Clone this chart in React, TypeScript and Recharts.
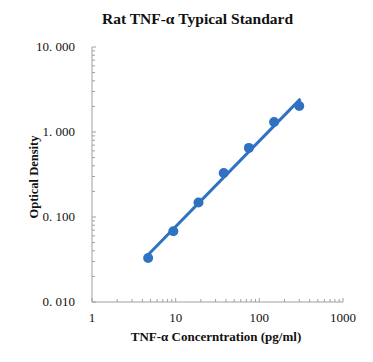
import { ComposedChart, Scatter, XAxis, YAxis } from 'recharts';

const concentrations = [4.69, 9.38, 18.75, 37.5, 75, 150, 300];
const odValues = [0.033, 0.068, 0.148, 0.33, 0.65, 1.31, 2.02];

// trendline ends (power fit, straight on log-log)
const fitX = [4.69, 310];
const fitY = [0.036, 2.45];

const xMajor = [1, 10, 100, 1000];
const xTicks = [1, 2, 3, 4, 5, 6, 7, 8, 9, 10, 20, 30, 40, 50, 60, 70, 80, 90, 100, 200, 300, 400, 500, 600, 700, 800, 900, 1000];
const yMajor = [0.01, 0.1, 1, 10];
const yTicks = [0.01, 0.02, 0.03, 0.04, 0.05, 0.06, 0.07, 0.08, 0.09, 0.1, 0.2, 0.3, 0.4, 0.5, 0.6, 0.7, 0.8, 0.9, 1, 2, 3, 4, 5, 6, 7, 8, 9, 10];
const yLabels = ['0. 010', '0. 100', '1. 000', '10. 000'];

const points = concentrations.map((x, i) => ({ x, y: odValues[i] }));
const fitLine = fitX.map((x, i) => ({ x, y: fitY[i] }));

const blue = '#2f72c2';
const axisColor = '#a0a0a0';
const font = '"Liberation Serif", "Times New Roman", serif';

const XTick = (props: any) => {
  const { x, y, payload } = props;
  const major = xMajor.includes(payload.value);
  return (
    <g>
      <line x1={x} x2={x} y1={y} y2={y - (major ? 4 : 3)} stroke={axisColor} strokeWidth={1} />
      {major && (
        <text x={x} y={y + 20} textAnchor="middle" fontSize={13} fill="#111" stroke="none" fontFamily={font}>
          {payload.value}
        </text>
      )}
    </g>
  );
};

const YTick = (props: any) => {
  const { x, y, payload } = props;
  const idx = yMajor.indexOf(payload.value);
  return (
    <g>
      <line x1={x} x2={x + (idx >= 0 ? 4 : 3)} y1={y} y2={y} stroke={axisColor} strokeWidth={1} />
      {idx >= 0 && (
        <text x={x - 17} y={y + 4} textAnchor="end" fontSize={13} fill="#111" stroke="none" fontFamily={font}>
          {yLabels[idx]}
        </text>
      )}
    </g>
  );
};

export default function App() {
  return (
    <div style={{ position: 'absolute', left: 0, top: 0, width: 373, height: 362, background: '#fff', fontFamily: font }}>
      <div style={{ position: 'absolute', left: 0, width: 373, top: 10, textAlign: 'center', paddingLeft: 22, boxSizing: 'border-box', fontWeight: 'bold', fontSize: 15.5, color: '#111' }}>
        Rat TNF-α Typical Standard
      </div>
      <div style={{ position: 'absolute', left: 34, top: 177, transform: 'translate(-50%, -50%) rotate(-90deg)', whiteSpace: 'nowrap', fontWeight: 'bold', fontSize: 12.5, color: '#111' }}>
        Optical Density
      </div>
      <div style={{ position: 'absolute', left: 216, top: 337, transform: 'translate(-50%, -50%)', whiteSpace: 'nowrap', fontWeight: 'bold', fontSize: 13, color: '#111' }}>
        TNF-α Concerntration (pg/ml)
      </div>
      <ComposedChart width={373} height={362} margin={{ top: 47, right: 30, bottom: 0, left: 0 }}>
        <XAxis
          type="number"
          dataKey="x"
          scale="log"
          domain={[1, 1000]}
          ticks={xTicks}
          interval={0}
          allowDataOverflow
          height={60}
          tickSize={0}
          tickMargin={0}
          stroke={axisColor}
          tick={<XTick />}
        />
        <YAxis
          type="number"
          dataKey="y"
          scale="log"
          domain={[0.01, 10]}
          ticks={yTicks}
          interval={0}
          allowDataOverflow
          width={92}
          tickSize={0}
          tickMargin={0}
          stroke={axisColor}
          tick={<YTick />}
        />
        <Scatter
          data={fitLine}
          line={{ stroke: blue, strokeWidth: 3 }}
          shape={() => null}
          isAnimationActive={false}
        />
        <Scatter
          data={points}
          fill={blue}
          shape={(p: any) => <circle cx={p.cx} cy={p.cy} r={5} fill={blue} />}
          isAnimationActive={false}
        />
      </ComposedChart>
    </div>
  );
}
